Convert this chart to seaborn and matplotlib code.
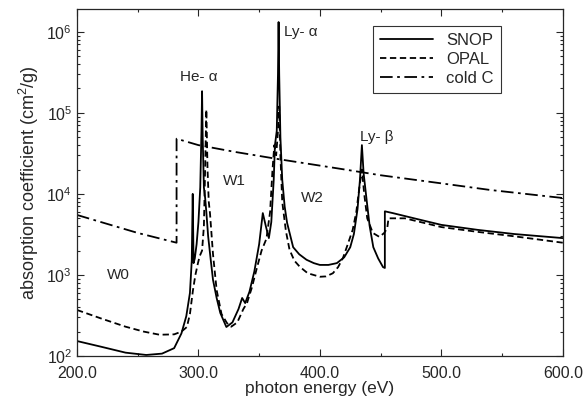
"""Absorption coefficient of carbon: SNOP vs OPAL vs cold C."""
import numpy as np
import pandas as pd
import seaborn as sns
import matplotlib.pyplot as plt
from matplotlib.ticker import FormatStrFormatter, MultipleLocator, LogLocator

sns.set_style("ticks")
plt.rcParams["font.family"] = ["Liberation Sans", "DejaVu Sans"]
plt.rcParams["mathtext.fontset"] = "custom"
plt.rcParams["mathtext.rm"] = "Liberation Sans"
plt.rcParams["mathtext.it"] = "Liberation Sans:italic"


# values (eV, cm^2/g)
snop_x = [200, 220, 240, 257, 270, 280, 286, 290, 293, 294.5, 295.3, 296, 297,
          298.5, 300, 301.5, 302.5, 303, 303.5, 304.5, 305.5, 306.5, 308, 310,
          312, 315, 318, 323, 328, 333, 336, 338.5, 342, 346, 350, 353, 355.5,
          358, 360, 362, 363, 364.5, 365.5, 366, 366.5, 367.5, 369, 371, 373,
          378, 383, 389, 395, 400, 407, 414, 420, 425, 428, 431, 433, 434.6,
          436, 438.5, 441, 444, 448, 452, 453.5, 453.5, 460, 480, 500, 530,
          560, 600]
snop_y = [153, 130, 110, 103, 107, 125, 190, 310, 600, 1500, 10000, 1400, 1600,
          2400, 4500, 12000, 60000, 185000, 50000, 12000, 9000, 6000, 3000, 1600,
          870, 520, 340, 228, 260, 380, 520, 450, 620, 1100, 2400, 5800, 4000,
          2850, 4500, 15000, 40000, 60000, 300000, 1320000, 300000, 50000, 15000,
          7000, 4400, 2200, 1800, 1540, 1400, 1330, 1330, 1400, 1650, 2200, 3200,
          6500, 15000, 40000, 18000, 8400, 4000, 2200, 1600, 1250, 1220, 6100,
          5800, 4900, 4150, 3600, 3200, 2850]

opal_x = [200, 220, 240, 255, 268, 280, 286, 290.5, 293, 295.5, 297.5, 299.6,
          301, 303, 304.5, 305.5, 306.5, 307.5, 308.5, 309.5, 312, 315, 319,
          323.5, 327, 332, 337, 340, 344, 348, 352, 356, 359, 361, 362.5, 364,
          365.5, 366.5, 367.5, 369, 372, 375, 379, 383.5, 390, 400, 405, 410.7,
          415, 419, 423, 427, 430, 432.5, 434.6, 436.5, 439, 443.6, 449, 453,
          455.5, 456.5, 470, 500, 530, 560, 600]
opal_y = [370, 290, 230, 200, 183, 185, 200, 228, 330, 650, 1000, 1400,
          1700, 2000, 4000, 20000, 110000, 20000, 8000, 5800, 1800, 650, 330,
          255, 230, 260, 380, 450, 700, 1200, 2000, 2800, 6000, 20000, 40000, 30000,
          60000, 120000, 30000, 8000, 3500, 2050, 1500, 1260, 1050, 950, 960, 1050,
          1250, 1620, 2400, 3600, 6000, 12000, 20000, 10000, 5000, 3300, 2950, 3300,
          3800, 5000, 5000, 3900, 3400, 3000, 2500]

coldc_x = [200, 250, 282, 282, 300, 330, 365, 416, 450, 500, 540, 600]
coldc_y = [5500, 3300, 2500, 48000, 40000, 33000, 27000, 20500, 17000, 13500,
           11200, 8900]

series_names = ["SNOP", "OPAL", "cold C"]


df = pd.concat([
    pd.DataFrame({"energy": snop_x, "kappa": snop_y, "model": "SNOP"}),
    pd.DataFrame({"energy": opal_x, "kappa": opal_y, "model": "OPAL"}),
    pd.DataFrame({"energy": coldc_x, "kappa": coldc_y, "model": "cold C"}),
], ignore_index=True)


fig = plt.figure(figsize=(5.85, 4.03), dpi=100)
ax = fig.add_axes([0.1316, 0.1166, 0.8304, 0.8614])

dashes = {"SNOP": "", "OPAL": (3.5, 2), "cold C": (7, 2.5, 1.5, 2.5)}
sns.lineplot(data=df, x="energy", y="kappa", hue="model", style="model",
    hue_order=series_names, style_order=series_names,
    palette=["black"] * 3, dashes=dashes,
    estimator=None, sort=False, linewidth=1.3, ax=ax)

ax.set_yscale("log")
ax.set_xlim(200, 600)
ax.set_ylim(100, 1.92e6)

ax.xaxis.set(major_locator=MultipleLocator(100),
    minor_locator=MultipleLocator(50),
    major_formatter=FormatStrFormatter("%.1f"))
ax.yaxis.set(major_locator=LogLocator(base=10, numticks=10),
    minor_locator=LogLocator(base=10, subs=np.arange(2, 10), numticks=10))
ax.tick_params(which="both", direction="in", top=True, right=True,
    labelsize=11.5, width=0.8)
ax.tick_params(which="major", length=5)
ax.tick_params(which="minor", length=2.5)
ax.tick_params(axis="x", which="major", pad=7)
for s in ax.spines.values():
    s.set_linewidth(0.9)

ax.set_xlabel("photon energy (eV)", fontsize=12.5, labelpad=0.5)
ax.set_ylabel("absorption coefficient (cm$^2$/g)", fontsize=13, labelpad=4)

# annotations
TXT = dict(fontsize=11, ha="center", va="center")
ax.text(300, 2.8e5, "He- α", **TXT)
ax.text(384, 1.0e6, "Ly- α", **TXT)
ax.text(447, 5.0e4, "Ly- β", **TXT)
ax.text(330, 1.45e4, "W1", **TXT)
ax.text(394, 9.0e3, "W2", **TXT)
ax.text(234, 1.0e3, "W0", **TXT)

handles, labels = ax.get_legend_handles_labels()
leg = ax.legend(handles, labels, loc="upper right",
    bbox_to_anchor=(0.872, 0.951), borderaxespad=0, fontsize=12,
    frameon=True, fancybox=False, edgecolor="black", handlelength=3.2,
    labelspacing=0.25, borderpad=0.4, handletextpad=0.8)
leg.get_frame().set_linewidth(0.8)

plt.savefig("out.png", dpi=100)
plt.close()
